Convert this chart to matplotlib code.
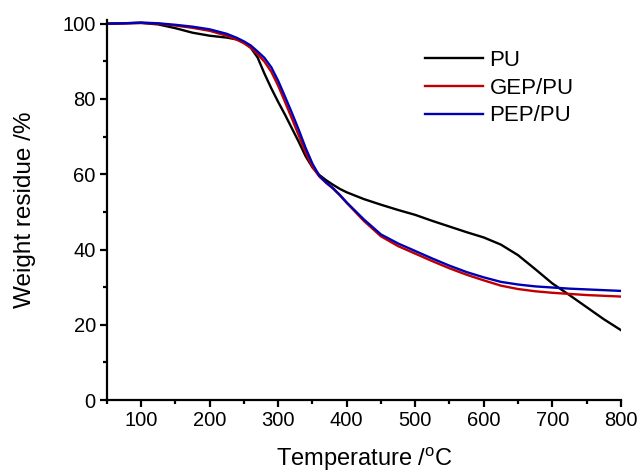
import matplotlib
matplotlib.use("Agg")
import matplotlib.pyplot as plt
from matplotlib.ticker import MultipleLocator

plt.rcParams['font.family'] = ['Liberation Sans', 'DejaVu Sans']

temp = [50, 75, 100, 125, 150, 175, 200, 225, 240, 250, 260, 270, 280, 290, 300, 310, 320, 330,
        340, 350, 360, 370, 380, 390, 400, 425, 450, 475, 500, 525, 550, 575, 600, 625, 650, 675,
        700, 725, 750, 775, 800]
pu = [100.0, 100.1, 100.2, 99.8, 98.8, 97.6, 96.8, 96.3, 95.8, 95.0, 93.6, 91.0, 86.7, 82.8, 79.2,
      75.8, 72.2, 68.6, 64.8, 61.8, 59.8, 58.4, 57.2, 56.1, 55.2, 53.4, 51.9, 50.5, 49.2, 47.6,
      46.1, 44.6, 43.2, 41.3, 38.5, 34.8, 31.0, 27.9, 24.7, 21.5, 18.6]
gep_pu = [100.0, 100.1, 100.2, 100.0, 99.5, 98.9, 98.1, 96.8, 95.7, 94.8, 93.6, 91.9, 89.9, 87.2,
          83.5, 79.2, 74.8, 70.3, 65.8, 61.9, 59.4, 57.7, 56.2, 54.4, 52.4, 47.6, 43.5, 40.9, 38.9,
          36.9, 35.0, 33.3, 31.8, 30.4, 29.5, 28.9, 28.5, 28.2, 27.9, 27.7, 27.5]
pep_pu = [100.0, 100.1, 100.3, 100.1, 99.7, 99.2, 98.5, 97.3, 96.2, 95.3, 94.2, 92.6, 90.9, 88.4,
          84.8, 80.6, 76.3, 71.8, 67.0, 62.8, 59.6, 57.8, 56.3, 54.5, 52.5, 48.0, 44.0, 41.6, 39.6,
          37.6, 35.7, 34.0, 32.6, 31.4, 30.7, 30.2, 29.9, 29.6, 29.4, 29.2, 29.0]

series = [("PU", pu, "#000000"), ("GEP/PU", gep_pu, "#c00000"), ("PEP/PU", pep_pu, "#0000b4")]

fig = plt.figure(figsize=(6.4, 4.74), dpi=100)
ax = fig.add_axes([0.167, 0.156, 0.803, 0.802])
for name, vals, col in series:
    ax.plot(temp, vals, color=col, lw=1.7, label=name)

ax.set_xlim(50, 800)
ax.set_ylim(0, 101)
ax.xaxis.set_minor_locator(MultipleLocator(50))
ax.yaxis.set_major_locator(MultipleLocator(20))
ax.yaxis.set_minor_locator(MultipleLocator(10))
ax.set_xticks(range(100, 801, 100))
for s in ['top', 'right']:
    ax.spines[s].set_visible(False)
for s in ['left', 'bottom']:
    ax.spines[s].set_linewidth(1.6)
ax.tick_params(which='major', direction='out', length=5, width=1.6, labelsize=14.5, pad=3)
ax.tick_params(which='minor', direction='out', length=3, width=1.6)

ax.set_xlabel("Temperature /$^{\\mathregular{o}}$C", fontsize=17, labelpad=11)
ax.set_ylabel("Weight residue /%", fontsize=17.5, labelpad=19)

leg = ax.legend(loc='upper left', bbox_to_anchor=(425/640, 1 - 50/474), bbox_transform=fig.transFigure,
                frameon=False, fontsize=16, handlelength=2.6, handletextpad=0.3,
                labelspacing=0.3, borderaxespad=0, borderpad=0)

fig.savefig("out.png", dpi=100)
